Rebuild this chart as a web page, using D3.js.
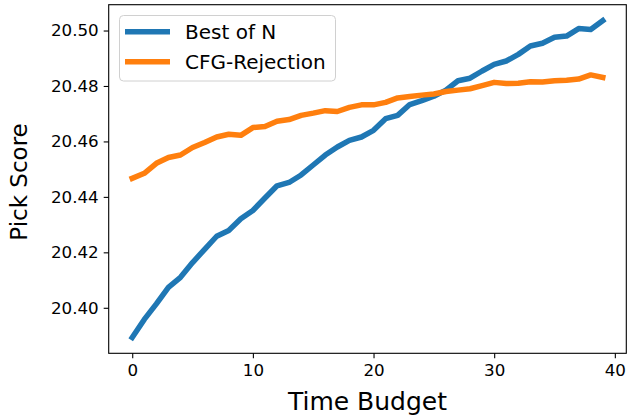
<!DOCTYPE html>
<html>
<head>
<meta charset="utf-8">
<script src="https://cdn.jsdelivr.net/npm/d3@7"></script>
<style>
  body { margin: 0; background: #fff; }
  svg { font-family: "DejaVu Sans", sans-serif; }
</style>
</head>
<body>
<svg id="myGraph" width="631" height="419"></svg>
<script>

// 데이터
var timeBudget = d3.range(0, 40)
var bestOfN = [
	20.3893, 20.3958, 20.4014, 20.4074, 20.4110, 20.4163, 20.4211, 20.4258, 20.4279, 20.4321,
	20.4351, 20.4396, 20.4440, 20.4452, 20.4479, 20.4515, 20.4551, 20.4580, 20.4604, 20.4616,
	20.4640, 20.4682, 20.4694, 20.4733, 20.4747, 20.4763, 20.4785, 20.4819, 20.4828, 20.4854,
	20.4878, 20.4890, 20.4914, 20.4944, 20.4954, 20.4976, 20.4980, 20.5007, 20.5004, 20.5036
]
var cfgRejection = [
	20.4467, 20.4485, 20.4521, 20.4542, 20.4551, 20.4578, 20.4596, 20.4616, 20.4626, 20.4622,
	20.4650, 20.4654, 20.4673, 20.4679, 20.4694, 20.4702, 20.4711, 20.4708, 20.4723, 20.4732,
	20.4732, 20.4741, 20.4757, 20.4762, 20.4767, 20.4771, 20.4780, 20.4785, 20.4790, 20.4801,
	20.4813, 20.4809, 20.4810, 20.4815, 20.4814, 20.4819, 20.4821, 20.4825, 20.4840, 20.4831
]
var seriesNames = ["Best of N", "CFG-Rejection"]
var seriesColors = ["#1f77b4", "#ff7f0e"]
var xTicks = [0, 10, 20, 30, 40]
var yTicks = [20.40, 20.42, 20.44, 20.46, 20.48, 20.50]

var svg = d3.select("#myGraph")

// 플롯 영역
var plotLeft = 108.7, plotRight = 626.3, plotTop = 4.7, plotBottom = 353.3

// matplotlib 기본 margin (5%)
var allY = bestOfN.concat(cfgRejection)
var yMin = d3.min(allY), yMax = d3.max(allY)
var yPad = (yMax - yMin) * 0.05
var xPad = 39 * 0.05

var xScale = d3.scaleLinear().domain([-xPad, 39 + xPad]).range([plotLeft, plotRight])
var yScale = d3.scaleLinear().domain([yMin - yPad, yMax + yPad]).range([plotBottom, plotTop])

// 축
var xAxis = d3.axisBottom(xScale).tickValues(xTicks).tickSize(5).tickPadding(5)
	.tickFormat(d3.format("d"))
var yAxis = d3.axisLeft(yScale).tickValues(yTicks).tickSize(5).tickPadding(5)
	.tickFormat(d3.format(".2f"))

var gx = svg.append("g")
	.attr("transform", "translate(0," + plotBottom + ")")
	.call(xAxis)
var gy = svg.append("g")
	.attr("transform", "translate(" + plotLeft + ",0)")
	.call(yAxis)

;[gx, gy].forEach(function(g) {
	g.select(".domain").remove()
	g.selectAll(".tick line").attr("stroke", "#000").attr("stroke-width", 1.1)
	g.selectAll(".tick text").attr("fill", "#000").style("font-size", "16.7px")
		.style("font-family", "DejaVu Sans")
})
gx.selectAll(".tick text").attr("dy", "0.75em")

// 라인
var line = d3.line()
	.x(function(d, i) { return xScale(timeBudget[i]) })
	.y(function(d) { return yScale(d) })

svg.append("clipPath").attr("id", "plotClip")
	.append("rect").attr("x", plotLeft).attr("y", plotTop)
	.attr("width", plotRight - plotLeft).attr("height", plotBottom - plotTop)

;[bestOfN, cfgRejection].forEach(function(s, k) {
	svg.append("path")
		.datum(s)
		.attr("clip-path", "url(#plotClip)")
		.attr("fill", "none")
		.attr("stroke", seriesColors[k])
		.attr("stroke-width", 5.5)
		.attr("stroke-linejoin", "round")
		.attr("stroke-linecap", "square")
		.attr("d", line)
})

// 테두리
svg.append("rect")
	.attr("x", plotLeft).attr("y", plotTop)
	.attr("width", plotRight - plotLeft).attr("height", plotBottom - plotTop)
	.attr("fill", "none").attr("stroke", "#000").attr("stroke-width", 1.1)

// 범례
var legend = svg.append("g")
legend.append("rect")
	.attr("x", 119.5).attr("y", 15.5).attr("width", 216).attr("height", 65.5)
	.attr("rx", 4).attr("fill", "#fff").attr("fill-opacity", 0.8)
	.attr("stroke", "#d0d0d0").attr("stroke-width", 1)
seriesNames.forEach(function(name, k) {
	var y = 31.7 + k * 30
	legend.append("line")
		.attr("x1", 125).attr("x2", 170).attr("y1", y).attr("y2", y)
		.attr("stroke", seriesColors[k]).attr("stroke-width", 5.5)
	legend.append("text")
		.attr("x", 185).attr("y", y + 7)
		.style("font-size", "20px")
		.text(name)
})

// 축 레이블
svg.append("text")
	.attr("x", (plotLeft + plotRight) / 2).attr("y", 410)
	.attr("text-anchor", "middle")
	.style("font-size", "25px")
	.text("Time Budget")
svg.append("text")
	.attr("transform", "translate(27," + ((plotTop + plotBottom) / 2 + 3) + ") rotate(-90)")
	.attr("text-anchor", "middle")
	.style("font-size", "23px")
	.text("Pick Score")

</script>
</body>
</html>
